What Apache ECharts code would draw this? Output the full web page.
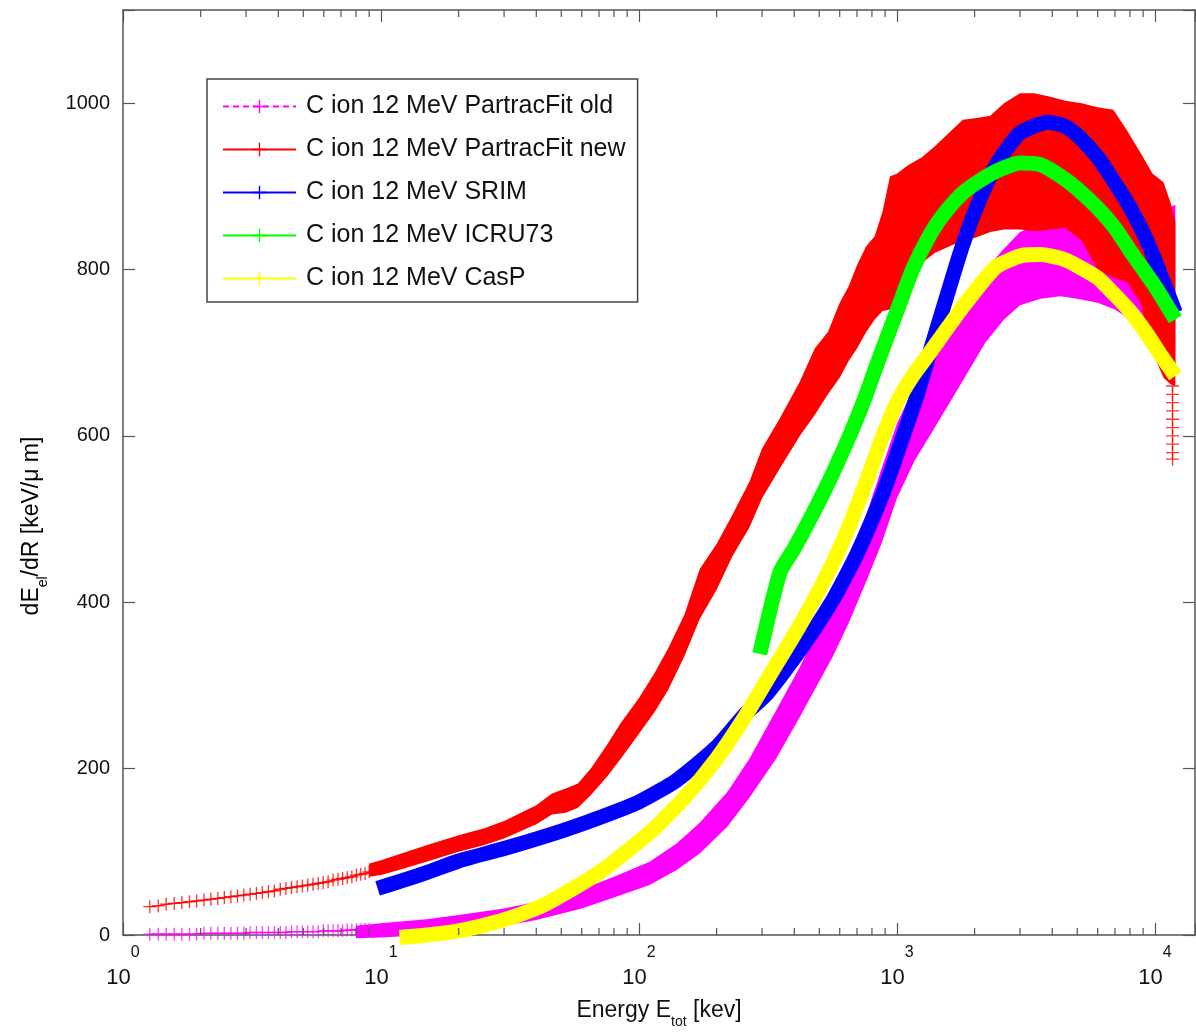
<!DOCTYPE html>
<html><head><meta charset="utf-8">
<script src="https://cdn.jsdelivr.net/npm/echarts@6/dist/echarts.min.js"></script>
<style>html,body{margin:0;padding:0;background:#fff}#c{width:1196px;height:1032px}</style>
</head><body><div id="c"></div>
<script>
const FONT = '"Liberation Sans", Arial, Helvetica, sans-serif';
const X_MIN = 1, X_MAX = 14300, Y_MIN = 0, Y_MAX = 1112;
const xMinorTicks = [2,3,4,5,6,7,8,9,20,30,40,50,60,70,80,90,200,300,400,500,600,700,800,900,2000,3000,4000,5000,6000,7000,8000,9000];
const legendNames = ['C ion 12 MeV PartracFit old','C ion 12 MeV PartracFit new','C ion 12 MeV SRIM','C ion 12 MeV ICRU73','C ion 12 MeV CasP'];

// SRIM (blue)
const blueE = [9.7,12,15,20,30,50,70,100,140,200,257,313,420,565,700,880,1000,1200,1340,1550,1800,2100,2450,3000,3850,4500,5100,6000,6900,8000,9300,10500,12000];
const blueV = [56,65,75,89,104,125,141,160,186,226,265,290,342,403,458,530,578,650,700,765,830,885,928,964,977,972,959,935,907,875,835,795,748];
// ICRU73 (green)
const greenE = [294,352,400,460,550,655,750,830,1000,1150,1350,1560,1800,2100,2500,3000,3600,4370,5000,5950,7000,8000,10000,12000];
const greenV = [338,436,465,500,548,600,645,683,750,800,843,871,892,907,920,928,926,911,897,875,850,823,780,740];
// CasP (yellow)
const yellowE = [11.8,15,20,29,40,49,70,110,150,200,257,330,420,550,650,760,870,1000,1150,1340,1800,2420,3060,3600,4370,5100,6000,6920,8000,9300,10500,12000];
const yellowV = [-3,0,5,17,32,46,75,123,165,212,262,318,372,440,490,545,595,640,672,700,755,803,817,818,813,803,790,771,750,723,698,672];
// PartracFit old (magenta): sparse markers + noisy band (lower/upper envelope)
const magSparseE = [1.27,1.37,1.47,1.58,1.69,1.81,1.93,2.06,2.19,2.33,2.47,2.62,2.78,2.94,3.11,3.29,3.47,3.66,3.86,4.07,4.28,4.5,4.73,4.96,5.2,5.45,5.71,5.97,6.24,6.52,6.81,7.1,7.4,7.71,8.03,8.35,8.68,9.0];
const magSparseV = [1,1,1,1,1,1,1,2,2,2,2,2,2,2,3,3,3,3,3,3,3,4,4,4,4,4,4,5,5,5,5,5,6,6,6,6,7,7];
const magE   = [8,10,15,20,30,40,60,80,110,140,172,220,268,340,420,500,565,650,760,870,1000,1170,1370,1600,1870,2200,2600,3000,3600,4300,5000,6000,7000,8000,9300,10500,12000];
const magLow = [-4,-3,0,4,11,18,32,45,60,78,98,130,165,212,262,305,335,375,425,470,525,570,605,640,675,712,740,757,765,768,765,760,752,740,720,705,680];
const magUp  = [11,14,19,24,32,40,55,70,88,110,135,172,212,270,322,370,400,448,505,560,615,660,700,735,770,800,825,845,855,858,858,855,852,855,862,870,878];
// PartracFit new (red): sparse markers + noisy band + low tail at the end
const redSparseE = [1.27,1.37,1.47,1.58,1.69,1.81,1.93,2.06,2.19,2.33,2.47,2.62,2.78,2.94,3.11,3.29,3.47,3.66,3.86,4.07,4.28,4.5,4.73,4.96,5.2,5.45,5.71,5.97,6.24,6.52,6.81,7.1,7.4,7.71,8.03,8.35,8.68,9.0];
const redSparseV = [34,35,37,38,39,40,41,42,43,44,45,46,47,48,49,50,51,52,53,55,56,57,58,59,60,61,62,63,64,66,67,68,69,70,72,73,74,76];
const redE   = [9,10,12,15,20,25,30,40,46,52,58,65,75,85,100,115,130,150,172,200,230,268,300,350,420,480,540,600,650,700,760,820,880,940,1000,1100,1250,1400,1600,1800,2000,2300,2600,3000,3400,3900,4500,5200,6000,6900,7800,8800,9800,10800,11500,12000];
const redLow = [70,72,79,88,100,108,116,133,145,147,153,168,190,212,242,268,295,335,380,415,455,490,525,560,600,625,650,670,690,705,725,740,750,752,760,790,808,820,828,835,838,845,848,848,846,848,850,835,800,790,785,760,700,670,662,660];
const redUp  = [86,90,98,108,120,128,137,156,170,176,182,200,228,255,285,315,345,385,440,470,505,545,585,620,665,705,725,760,780,805,828,840,870,912,915,925,935,948,965,980,982,985,1000,1012,1012,1008,1003,1000,995,992,967,940,915,905,880,858];
const redTailE = [11700,11700,11700,11700,11700,11700,11700,11700,11700,11700];
const redTailV = [660,650,640,630,620,610,600,590,580,572];

const PLUS = 'path://M9,0h2v9h9v2h-9v9h-2v-9h-9v-2h9z';
const zip = (a, b) => a.map((v, i) => [v, b[i]]);
const AXC = '#555';

function band(E, lo, up, color) {
  return {
    type: 'custom', clip: false, silent: true,
    data: [[E[0], lo[0]]],
    renderItem: function (params, api) {
      const pts = [];
      for (let i = 0; i < E.length; i++) pts.push(api.coord([E[i], up[i]]));
      for (let i = E.length - 1; i >= 0; i--) pts.push(api.coord([E[i], lo[i]]));
      return { type: 'polygon', shape: { points: pts }, style: { fill: color } };
    }
  };
}
function thick(E, V, color) {
  return { type: 'line', data: zip(E, V), showSymbol: false, symbol: 'none', clip: false, smooth: 0.2,
    lineStyle: { color: color, width: 15, cap: 'butt', join: 'round' }, silent: true };
}
function dummy(name, color, dashed) {
  return { type: 'line', name: name, data: [], symbol: PLUS, symbolSize: 14,
    itemStyle: { color: color }, lineStyle: { color: color, width: 1.5, type: dashed ? [6, 4] : 'solid' } };
}
const colors = ['#ff00ff', '#ff0000', '#0000ff', '#00ff00', '#ffff00'];

const chart = echarts.init(document.getElementById('c'), null, { renderer: 'canvas' });
const xLabelFmt = function (v) {
  const e = Math.log10(v);
  if (Math.abs(e - Math.round(e)) > 1e-6) return '';
  return '{b|10}{s|' + Math.round(e) + '}';
};
const titleRich = {
  n: { fontFamily: FONT, fontSize: 23, color: '#111', lineHeight: 36, verticalAlign: 'middle' },
  sub: { fontFamily: FONT, fontSize: 14, color: '#111', lineHeight: 36, verticalAlign: 'bottom' }
};
const option = {
  backgroundColor: '#fff',
  animation: false,
  grid: { left: 123, right: 1, top: 10, bottom: 97, outerBoundsMode: 'none' },
  legend: {
    orient: 'vertical', left: 207, top: 79,
    padding: [15, 12, 11, 15],
    itemWidth: 73, itemHeight: 17, itemGap: 18,
    backgroundColor: '#fff', borderColor: '#444', borderWidth: 1.5, borderRadius: 0,
    textStyle: { fontFamily: FONT, fontSize: 25, color: '#111', lineHeight: 25, padding: [0, 0, 0, 5] },
    selectedMode: false,
    data: legendNames
  },
  graphic: [{
    type: 'text', x: 32, y: 526, rotation: Math.PI / 2, silent: true,
    style: { text: '{n|dE}{sub|el}{n|/dR [keV/μ m]}', rich: titleRich, align: 'center', verticalAlign: 'middle' }
  }],
  xAxis: [{
    type: 'log', logBase: 10, min: X_MIN, max: X_MAX, position: 'bottom',
    name: '{n|Energy E}{sub|tot}{n| [kev]}', nameLocation: 'middle', nameGap: 58, nameMoveOverlap: false,
    nameTextStyle: { rich: titleRich },
    axisLine: { show: true, onZero: false, lineStyle: { color: AXC, width: 1.5 } },
    axisTick: { show: true, inside: true, length: 12, lineStyle: { color: AXC, width: 1.2 } },
    axisLabel: { formatter: xLabelFmt, margin: 10, rich: {
      b: { fontFamily: FONT, fontSize: 22, color: '#111', lineHeight: 44, verticalAlign: 'bottom' },
      s: { fontFamily: FONT, fontSize: 16, color: '#111', lineHeight: 44, verticalAlign: 'top' } } },
    splitLine: { show: false }, minorTick: { show: false }
  }, {
    type: 'log', logBase: 10, min: X_MIN, max: X_MAX, position: 'top',
    axisLine: { show: true, onZero: false, lineStyle: { color: AXC, width: 1.5 } },
    axisTick: { show: true, inside: true, length: 12, lineStyle: { color: AXC, width: 1.2 } },
    axisLabel: { show: false }, splitLine: { show: false }
  }],
  yAxis: [{
    type: 'value', min: Y_MIN, max: Y_MAX, interval: 200, position: 'left',
    axisLine: { show: true, onZero: false, lineStyle: { color: AXC, width: 1.5 } },
    axisTick: { show: true, inside: true, length: 12, lineStyle: { color: AXC, width: 1.2 } },
    axisLabel: { fontFamily: FONT, fontSize: 20, color: '#111', margin: 13,
      formatter: v => (v % 200 === 0 ? String(v) : '') },
    splitLine: { show: false }
  }, {
    type: 'value', min: Y_MIN, max: Y_MAX, interval: 200, position: 'right',
    axisLine: { show: true, onZero: false, lineStyle: { color: AXC, width: 1.5 } },
    axisTick: { show: true, inside: true, length: 12, lineStyle: { color: AXC, width: 1.2 } },
    axisLabel: { show: false }, splitLine: { show: false }
  }],
  series: [
    dummy(legendNames[0], colors[0], true),
    dummy(legendNames[1], colors[1], false),
    dummy(legendNames[2], colors[2], false),
    dummy(legendNames[3], colors[3], false),
    dummy(legendNames[4], colors[4], false),
    band(magE, magLow, magUp, colors[0]),
    { type: 'line', data: zip(magSparseE, magSparseV), symbol: PLUS, symbolSize: 13, showSymbol: true, clip: false, silent: true,
      itemStyle: { color: colors[0], opacity: 0.75 }, lineStyle: { color: colors[0], width: 1.2 } },
    band(redE, redLow, redUp, colors[1]),
    { type: 'line', data: zip(redSparseE, redSparseV), symbol: PLUS, symbolSize: 13, showSymbol: true, clip: false, silent: true,
      itemStyle: { color: colors[1], opacity: 0.8 }, lineStyle: { color: colors[1], width: 1.2 } },
    { type: 'scatter', data: zip(redTailE, redTailV), symbol: PLUS, symbolSize: 13, silent: true,
      itemStyle: { color: colors[1], opacity: 0.8 } },
    thick(blueE, blueV, colors[2]),
    thick(greenE, greenV, colors[3]),
    thick(yellowE, yellowV, colors[4]),
    { type: 'custom', clip: false, silent: true, z: 10,
      data: xMinorTicks.map(v => [v, 0]),
      renderItem: function (params, api) {
        const b = api.coord([api.value(0), Y_MIN]);
        const t = api.coord([api.value(0), Y_MAX]);
        return { type: 'group', children: [
          { type: 'line', shape: { x1: b[0], y1: b[1], x2: b[0], y2: b[1] - 7 }, style: { stroke: AXC, lineWidth: 1.2 } },
          { type: 'line', shape: { x1: t[0], y1: t[1], x2: t[0], y2: t[1] + 7 }, style: { stroke: AXC, lineWidth: 1.2 } }
        ] };
      } }
  ]
};
chart.setOption(option);
</script></body></html>
